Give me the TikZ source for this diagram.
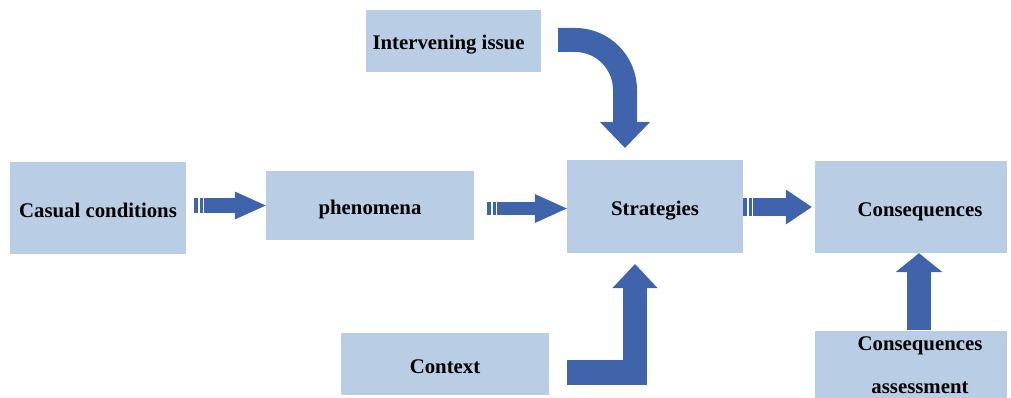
\documentclass[tikz,border=0pt]{standalone}
\usepackage{fontspec}
\setmainfont{Liberation Serif}
\usetikzlibrary{positioning,arrows.meta,calc}
\definecolor{boxblue}{RGB}{185,205,229}
\definecolor{arrowblue}{RGB}{63,100,172}

\begin{document}
\begin{tikzpicture}[x=1pt,y=-1pt,
  box/.style={fill=boxblue,rectangle,inner sep=0pt,font=\fontsize{20.8}{24}\selectfont\bfseries},
  line1/.style={text height=20pt,text depth=2pt},
  blk/.style={draw=arrowblue,line cap=butt}]
  \useasboundingbox (0,0) rectangle (1011,398);
  \node[box,line1,minimum width=176pt,minimum height=92pt] (cause) at (98,208) {Casual conditions};
  \node[box,line1,minimum width=208pt,minimum height=69pt] (phen) at (370,205.5) {phenomena};
  \node[box,line1,minimum width=176pt,minimum height=93pt] (strat) at (655,206.5) {Strategies};
  \node[box,line1,minimum width=192pt,minimum height=92pt] (conseq) at (911,207) {\hspace*{18pt}Consequences};
  \node[box,line1,minimum width=175pt,minimum height=62pt] (interv) at (453.5,41) {Intervening issue\hspace*{10pt}};
  \node[box,line1,minimum width=208pt,minimum height=62pt] (context) at (445,364) {Context};
  \node[box,minimum width=192pt,minimum height=68pt,align=center,font=\fontsize{20.8}{43}\selectfont\bfseries] (assess) at (911,365) {\hspace*{18pt}Consequences\\\hspace*{18pt}assessment};
  \coordinate (topin) at (625,148);
  \coordinate (botin) at (635,264);
  \draw[blk,line width=15pt,dash pattern=on 4pt off 1.5pt on 3pt off 1.5pt on 200pt,-{Triangle[length=31pt,width=28pt,line width=0pt]}] ($(cause.east)+(8,-2.5)$) -- (phen.west);
  \draw[blk,line width=13pt,dash pattern=on 4pt off 1.5pt on 3pt off 1.5pt on 200pt,-{Triangle[length=32pt,width=29pt,line width=0pt]}] ($(phen.east)+(13,3)$) -- ($(strat.west)+(0,2)$);
  \draw[blk,line width=18pt,dash pattern=on 4pt off 1.5pt on 3pt off 1.5pt on 200pt,-{Triangle[length=26pt,width=35pt,line width=0pt]}] ($(strat.east)+(0,0.5)$) -- ($(conseq.west)+(-3,0)$);
  \draw[blk,line width=24pt,-{Triangle[length=26pt,width=50pt,line width=0pt]}] ($(interv.east)+(17,-1)$) -- ++(17,0) .. controls ++(27.6,0) and (625,62.4) .. (625,90) -- (topin);
  \draw[blk,line width=24.5pt,line join=miter,-{Triangle[length=24pt,width=45pt,line width=0pt]}] ($(context.east)+(18,8.5)$) -| (botin);
  \draw[blk,line width=24pt,-{Triangle[length=19pt,width=47pt,line width=0pt]}] ($(assess.north)+(8,-1)$) -- ($(conseq.south)+(8,0)$);
\end{tikzpicture}
\end{document}
